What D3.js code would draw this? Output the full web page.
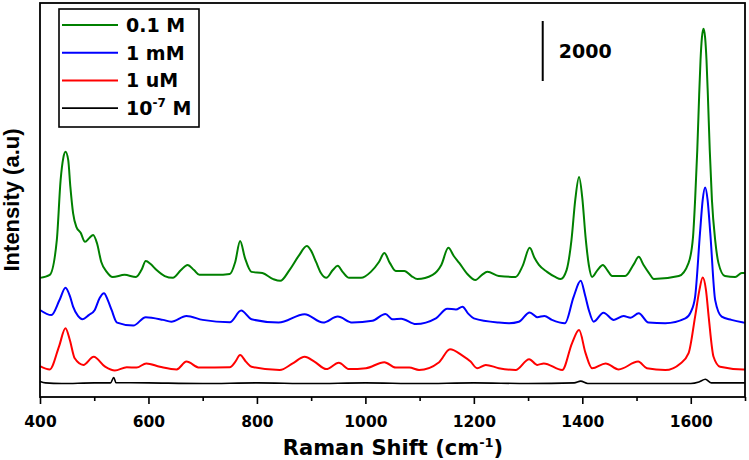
<!DOCTYPE html>
<html><head><meta charset="utf-8">
<script src="https://cdn.jsdelivr.net/npm/d3@7"></script>
<style>html,body{margin:0;padding:0;background:#fff;} svg{display:block;}</style>
</head><body>
<svg id="chart" width="749" height="460"></svg>
<script>
// ---- data ----
const xTicks = [400, 600, 800, 1000, 1200, 1400, 1600];
const xMinorTicks = [500, 700, 900, 1100, 1300, 1500, 1700];
const xDomain = [400, 1700];
const yDomain = [0, 13130];
const seriesNames = ["0.1 M", "1 mM", "1 uM", "10-7 M"];
const seriesColors = ["#008000", "#0000ff", "#ff0000", "#000000"];
const scaleBarValue = 2000;
const scaleBarPos = [1327, 10530];

const green = [[400,3970],[418,4070],[431,5230],[438,7230],[443,7970],[447,8170],[452,7900],[456,7000],[461,6130],[467,5670],[475,5470],[483,5170],[491,5300],[498,5400],[505,5130],[513,4500],[523,4170],[534,4000],[556,4070],[577,4000],[587,4230],[595,4530],[604,4430],[615,4230],[630,4030],[645,3970],[660,4230],[672,4400],[684,4230],[694,4070],[725,4070],[750,4100],[760,4500],[769,5200],[778,4630],[790,4170],[810,4130],[830,3930],[843,3870],[860,4230],[877,4700],[892,5030],[900,4870],[909,4500],[918,4130],[928,3970],[940,4230],[949,4370],[958,4170],[970,3970],[992,3970],[1010,4170],[1025,4500],[1035,4800],[1045,4470],[1056,4200],[1072,4200],[1085,4030],[1096,3930],[1124,4070],[1140,4400],[1153,4970],[1163,4700],[1173,4470],[1188,4100],[1203,3900],[1215,4070],[1225,4170],[1246,4030],[1277,4000],[1290,4370],[1303,4970],[1312,4630],[1320,4400],[1335,4170],[1350,4000],[1360,3930],[1371,4230],[1380,5230],[1387,6570],[1394,7330],[1400,6630],[1406,5330],[1412,4400],[1418,4000],[1428,4230],[1438,4400],[1446,4230],[1455,4030],[1479,4030],[1495,4430],[1504,4670],[1513,4400],[1523,4130],[1532,3930],[1578,4030],[1596,4470],[1604,5300],[1608,6570],[1612,8230],[1615.5,10070],[1618,11230],[1620.5,11970],[1623.5,12270],[1626.5,11970],[1629,11230],[1631.5,10070],[1635,8230],[1639,6570],[1645,5230],[1651,4470],[1663,4030],[1682,4000],[1694,4130],[1700,4130]];

const blue = [[400,2900],[421,2730],[436,3230],[447,3640],[455,3370],[461,3010],[470,2700],[478,2590],[490,2730],[501,2900],[510,3300],[518,3460],[525,3230],[532,2900],[542,2480],[572,2380],[595,2660],[627,2570],[642,2510],[670,2700],[700,2570],[750,2490],[771,2880],[790,2590],[840,2480],[888,2760],[922,2480],[949,2680],[976,2480],[1013,2540],[1037,2770],[1050,2590],[1066,2610],[1093,2430],[1130,2620],[1151,2940],[1167,2920],[1179,3010],[1190,2770],[1200,2620],[1246,2480],[1265,2460],[1283,2510],[1303,2820],[1317,2660],[1330,2700],[1344,2570],[1368,2460],[1384,3340],[1397,3870],[1405,3400],[1412,2900],[1421,2510],[1439,2810],[1458,2570],[1476,2700],[1489,2640],[1504,2790],[1522,2480],[1553,2460],[1590,2620],[1600,2830],[1608,3340],[1617,5460],[1622,6570],[1626.5,6980],[1631,6570],[1636,5460],[1645,3230],[1657,2680],[1675,2570],[1697,2480],[1700,2470]];

const red = [[400,1030],[418,920],[435,1680],[447,2290],[455,1900],[464,1290],[480,1070],[499,1340],[520,1010],[538,880],[560,990],[578,980],[596,1120],[621,1010],[652,920],[670,1180],[694,980],[750,990],[760,1170],[769,1400],[780,1170],[790,1010],[842,900],[866,1120],[888,1340],[906,1180],[928,930],[951,1140],[970,930],[1001,960],[1035,1160],[1056,980],[1081,980],[1099,900],[1136,1160],[1156,1590],[1179,1380],[1194,1180],[1206,960],[1222,1070],[1246,960],[1277,900],[1302,1260],[1317,1070],[1329,1120],[1363,900],[1381,1790],[1394,2230],[1406,1460],[1418,960],[1443,1120],[1467,920],[1503,1180],[1519,960],[1553,900],[1581,1120],[1596,1460],[1608,2680],[1616,3570],[1622,3980],[1628,3570],[1633,2680],[1642,1340],[1654,1010],[1697,920],[1700,920]];

const black = [[400,520],[410,470],[440,450],[500,470],[530,470],[536,650],[540,480],[600,470],[700,450],[800,470],[900,450],[1000,470],[1100,450],[1200,470],[1300,450],[1385,470],[1397,530],[1410,450],[1500,450],[1600,450],[1615,500],[1627,590],[1638,470],[1700,470]];

const seriesData = [green, blue, red, black];

// ---- layout ----
const W = 749, H = 460;
const m = {left: 40, right: 4, top: 3, bottom: 63};
const svg = d3.select("#chart");
const x = d3.scaleLinear().domain(xDomain).range([m.left, W - m.right]);
const y = d3.scaleLinear().domain(yDomain).range([H - m.bottom, m.top]);
const FONT = "'DejaVu Sans', Verdana, sans-serif";

// series
const line = d3.line().x(d => x(d[0])).y(d => y(d[1])).curve(d3.curveMonotoneX);
svg.append("g").selectAll("path").data(seriesData).join("path")
  .attr("d", line).attr("fill", "none")
  .attr("stroke", (d, i) => seriesColors[i])
  .attr("stroke-width", (d, i) => i === 3 ? 1.6 : 2)
  .attr("stroke-linejoin", "round");

// frame
svg.append("rect").attr("x", m.left).attr("y", m.top)
  .attr("width", W - m.left - m.right).attr("height", H - m.top - m.bottom)
  .attr("fill", "none").attr("stroke", "#000").attr("stroke-width", 1.8);

// bottom axis (major)
const gx = svg.append("g").attr("transform", `translate(0,${H - m.bottom})`)
  .call(d3.axisBottom(x).tickValues(xTicks).tickSize(7).tickSizeOuter(0).tickFormat(d3.format("d")));
gx.select(".domain").remove();
gx.selectAll("line").attr("stroke-width", 1.6);
gx.selectAll("text").attr("y", 29.5).attr("dy", 0)
  .attr("font-family", FONT).attr("font-weight", "bold").attr("font-size", 15.5).attr("fill", "#000");
// minor ticks
const gm = svg.append("g").attr("transform", `translate(0,${H - m.bottom})`)
  .call(d3.axisBottom(x).tickValues(xMinorTicks).tickSize(4).tickFormat(""));
gm.select(".domain").remove();
gm.selectAll("line").attr("stroke-width", 1.6);

// axis titles
const xt = svg.append("text").attr("x", 393).attr("y", 455).attr("text-anchor", "middle")
  .attr("font-family", FONT).attr("font-weight", "bold").attr("font-size", 21);
xt.append("tspan").text("Raman Shift (cm");
xt.append("tspan").attr("dy", -8).attr("font-size", 13).text("-1");
xt.append("tspan").attr("dy", 8).text(")");

svg.append("text").attr("transform", "translate(19,200) rotate(-90)").attr("text-anchor", "middle")
  .attr("font-family", "'Liberation Sans', Arial, sans-serif").attr("font-weight", "bold").attr("font-size", 22)
  .text("Intensity (a.u)");

// legend
const lg = svg.append("g");
lg.append("rect").attr("x", 59).attr("y", 9).attr("width", 140).attr("height", 118)
  .attr("fill", "#fff").attr("stroke", "#000").attr("stroke-width", 1.6);
seriesNames.forEach((name, i) => {
  const ly = 25 + i * 27.7;
  lg.append("line").attr("x1", 62).attr("x2", 118).attr("y1", ly).attr("y2", ly)
    .attr("stroke", seriesColors[i]).attr("stroke-width", i === 3 ? 1.6 : 2);
  const t = lg.append("text").attr("x", 126).attr("y", ly + 7)
    .attr("font-family", FONT).attr("font-weight", "bold").attr("font-size", 19);
  if (name.includes("-7")) {
    t.append("tspan").text("10");
    t.append("tspan").attr("dy", -8).attr("font-size", 12).text("-7");
    t.append("tspan").attr("dy", 8).text(" M");
  } else {
    t.text(name);
  }
});

// scale bar
const sbx = x(scaleBarPos[0]);
svg.append("line").attr("x1", sbx).attr("x2", sbx)
  .attr("y1", y(scaleBarPos[1])).attr("y2", y(scaleBarPos[1] + scaleBarValue))
  .attr("stroke", "#000").attr("stroke-width", 2);
svg.append("text").attr("x", sbx + 16).attr("y", y(scaleBarPos[1] + scaleBarValue / 2) + 7)
  .attr("font-family", FONT).attr("font-weight", "bold").attr("font-size", 19)
  .text(String(scaleBarValue));
</script>
</body></html>
